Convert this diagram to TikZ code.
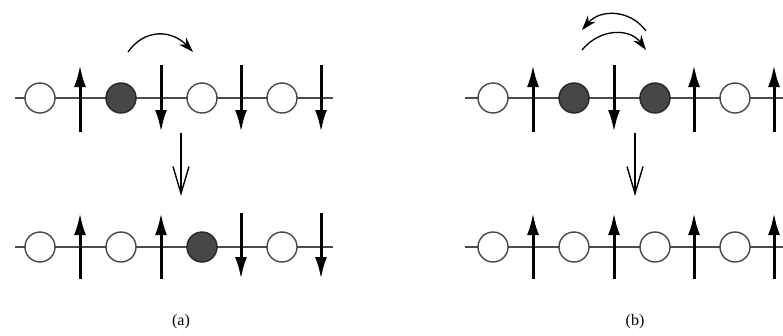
\documentclass[tikz,border=0pt]{standalone}
\usepackage{fontspec}
\setmainfont{Liberation Serif}
\usetikzlibrary{arrows.meta}
\begin{document}
\begin{tikzpicture}[x=1pt,y=-1pt,
  site/.style={circle,draw=black!72,line width=1.4pt,fill=white,minimum size=30pt,inner sep=0pt},
  hole/.style={site,fill=black!72,draw=black!85},
  chain/.style={draw=black!70,line width=1.3pt},
  spin/.style={line width=3pt,-{Latex[length=22pt,width=12pt]}},
  transarrow/.style={line width=1.4pt,-{Straight Barb[length=27pt,width=16pt]}},
  hop/.style={line width=1.3pt,-{Stealth[length=15pt,width=10pt]}},
  lab/.style={font=\fontsize{16}{18}\selectfont}]
\useasboundingbox (0,0) rectangle (783,335);
\clip (0,0) rectangle (783,335);
% ---------- panel (a), top row ----------
\coordinate (aTL) at (15,98); \coordinate (aTR) at (333,98);
\draw[chain] (aTL) -- (aTR);
\node[site] (a11) at (40,98) {};
\node[hole] (a12) at (121,98) {};
\node[site] (a13) at (202,98) {};
\node[site] (a14) at (282,98) {};
\foreach \x/\n in {80/1,161/2,241/3,321/4}{
  \coordinate (aT\n t) at (\x,65); \coordinate (aT\n b) at (\x,132);}
\draw[spin] (aT1b) -- (aT1t);
\draw[spin] (aT2t) -- (aT2b);
\draw[spin] (aT3t) -- (aT3b);
\draw[spin] (aT4t) -- (aT4b);
% ---------- panel (a), bottom row ----------
\coordinate (aBL) at (15,247); \coordinate (aBR) at (333,247);
\draw[chain] (aBL) -- (aBR);
\node[site] (a21) at (40,247) {};
\node[site] (a22) at (121,247) {};
\node[hole] (a23) at (202,247) {};
\node[site] (a24) at (282,247) {};
\foreach \x/\n in {80/1,161/2,241/3,321/4}{
  \coordinate (aB\n t) at (\x,213); \coordinate (aB\n b) at (\x,279);}
\draw[spin] (aB1b) -- (aB1t);
\draw[spin] (aB2b) -- (aB2t);
\draw[spin] (aB3t) -- (aB3b);
\draw[spin] (aB4t) -- (aB4b);
% transition and hop
\coordinate (aM1) at (181,133); \coordinate (aM2) at (181,196);
\draw[transarrow] (aM1) -- (aM2);
\coordinate (aH1) at (128,52); \coordinate (aH2) at (193,52);
\draw[hop] (aH1) .. controls (145,28) and (172,30) .. (aH2);
\node[lab] (la) at (181,322) {(a)};
% ---------- panel (b), top row ----------
\coordinate (bTL) at (465,98); \coordinate (bTR) at (790,98);
\draw[chain] (bTL) -- (bTR);
\node[site] (b11) at (493,98) {};
\node[hole] (b12) at (574,98) {};
\node[hole] (b13) at (655,98) {};
\node[site] (b14) at (735,98) {};
\foreach \x/\n in {533/1,614/2,694/3,774/4}{
  \coordinate (bT\n t) at (\x,65); \coordinate (bT\n b) at (\x,132);}
\draw[spin] (bT1b) -- (bT1t);
\draw[spin] (bT2t) -- (bT2b);
\draw[spin] (bT3b) -- (bT3t);
\draw[spin] (bT4b) -- (bT4t);
% ---------- panel (b), bottom row ----------
\coordinate (bBL) at (465,247); \coordinate (bBR) at (790,247);
\draw[chain] (bBL) -- (bBR);
\node[site] (b21) at (493,247) {};
\node[site] (b22) at (574,247) {};
\node[site] (b23) at (655,247) {};
\node[site] (b24) at (735,247) {};
\foreach \x/\n in {533/1,614/2,694/3,774/4}{
  \coordinate (bB\n t) at (\x,213); \coordinate (bB\n b) at (\x,279);}
\draw[spin] (bB1b) -- (bB1t);
\draw[spin] (bB2b) -- (bB2t);
\draw[spin] (bB3b) -- (bB3t);
\draw[spin] (bB4b) -- (bB4t);
% transition and hops
\coordinate (bM1) at (635,133); \coordinate (bM2) at (635,196);
\draw[transarrow] (bM1) -- (bM2);
\coordinate (bH1) at (646,31); \coordinate (bH2) at (582,30);
\draw[hop] (bH1) .. controls (630,9) and (600,9) .. (bH2);
\coordinate (bH3) at (582,50); \coordinate (bH4) at (646,50);
\draw[hop] (bH3) .. controls (600,28) and (630,28) .. (bH4);
\node[lab] (lb) at (635,322) {(b)};
\end{tikzpicture}
\end{document}
